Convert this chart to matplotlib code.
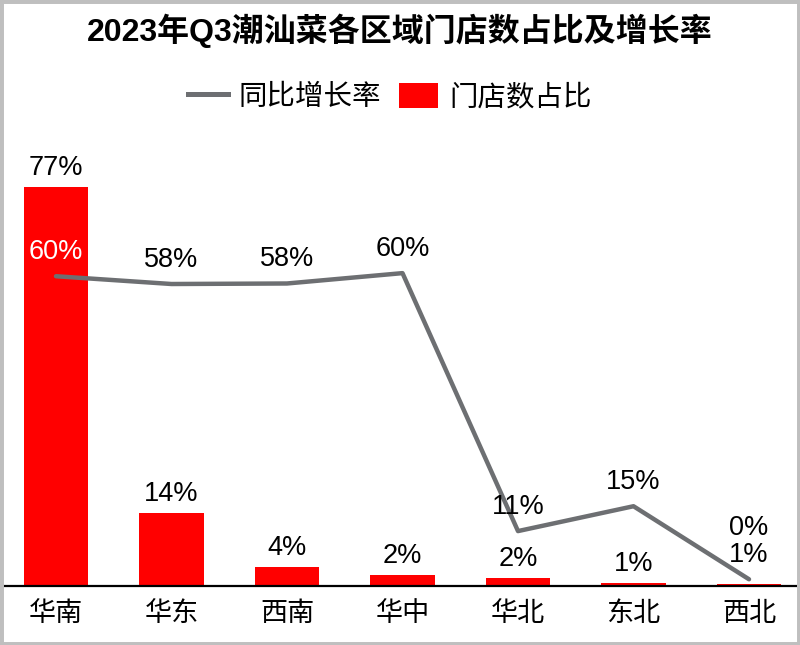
import numpy as np
import matplotlib
matplotlib.use("Agg")
import matplotlib.pyplot as plt
from matplotlib.patches import Rectangle
from matplotlib.lines import Line2D
from matplotlib.patches import Patch

plt.rcParams["font.family"] = ["Liberation Sans", "Noto Sans CJK SC", "DejaVu Sans"]

regions = ["华南", "华东", "西南", "华中", "华北", "东北", "西北"]
store_share = [77.0, 14.0, 3.7, 2.1, 1.6, 0.6, 0.3]   # 门店数占比 (%)
growth_rate = [59.8, 58.3, 58.4, 60.4, 10.6, 15.4, 1.3]  # 同比增长率 (%)

title = "2023年Q3潮汕菜各区域门店数占比及增长率"
bar_color = "#FF0000"
line_color = "#6D6F72"

W, H = 800, 645
fig = plt.figure(figsize=(W / 100, H / 100), dpi=100)

# axes placement in pixels
base_px = 586.0
px_per_unit = 5.18
ymax = 90
top_px = base_px - ymax * px_per_unit
left_px, right_px = 3, 796
ax = fig.add_axes([left_px / W, 1 - base_px / H, (right_px - left_px) / W, (base_px - top_px) / H])

x = np.arange(len(regions))
slot = 115.5
ax.set_xlim(-(56 - left_px) / slot, 6 + (right_px - 749) / slot)
ax.set_ylim(0, ymax)

ax.bar(x, store_share, width=0.555, color=bar_color, zorder=2)
ax.plot(x, growth_rate, color=line_color, linewidth=3.2, solid_capstyle="round", zorder=3)

# bar labels
for i, v in enumerate(store_share):
    off = 41 if i == 6 else 13.7
    ax.annotate(f"{v:.0f}%", (x[i], v), xytext=(0, off), textcoords="offset points",
                ha="center", va="center", fontsize=19.5, color="black", zorder=4)

# line labels
for i, v in enumerate(growth_rate):
    ax.annotate(f"{v:.0f}%", (x[i], v), xytext=(0, 17.3), textcoords="offset points",
                ha="center", va="center", fontsize=19.5,
                color="white" if i == 0 else "black", zorder=4)

for s in ["top", "left", "right"]:
    ax.spines[s].set_visible(False)
ax.spines["bottom"].set_linewidth(1.6)
ax.set_yticks([])
ax.set_xticks(x)
ax.set_xticklabels(regions, fontsize=19.5)
ax.tick_params(axis="x", length=0, pad=11)

fig.text(0.5, 1 - 31 / H, title, ha="center", va="center", fontsize=23, fontweight="bold")

handles = [Line2D([0], [0], color=line_color, linewidth=3.6),
           Patch(facecolor=bar_color)]
fig.legend(handles, ["同比增长率", "门店数占比"], loc="center", bbox_to_anchor=(0.4875, 1 - 97 / H),
           ncol=2, frameon=False, fontsize=20.5, handlelength=1.4, handleheight=1.0,
           handletextpad=0.4, columnspacing=0.6)

# outer gray frame
fig.patches.append(Rectangle((0, 0), 1, 1, transform=fig.transFigure, fill=False,
                             edgecolor="#BFBFBF", linewidth=5, zorder=10))

fig.savefig("out.png", dpi=100)
